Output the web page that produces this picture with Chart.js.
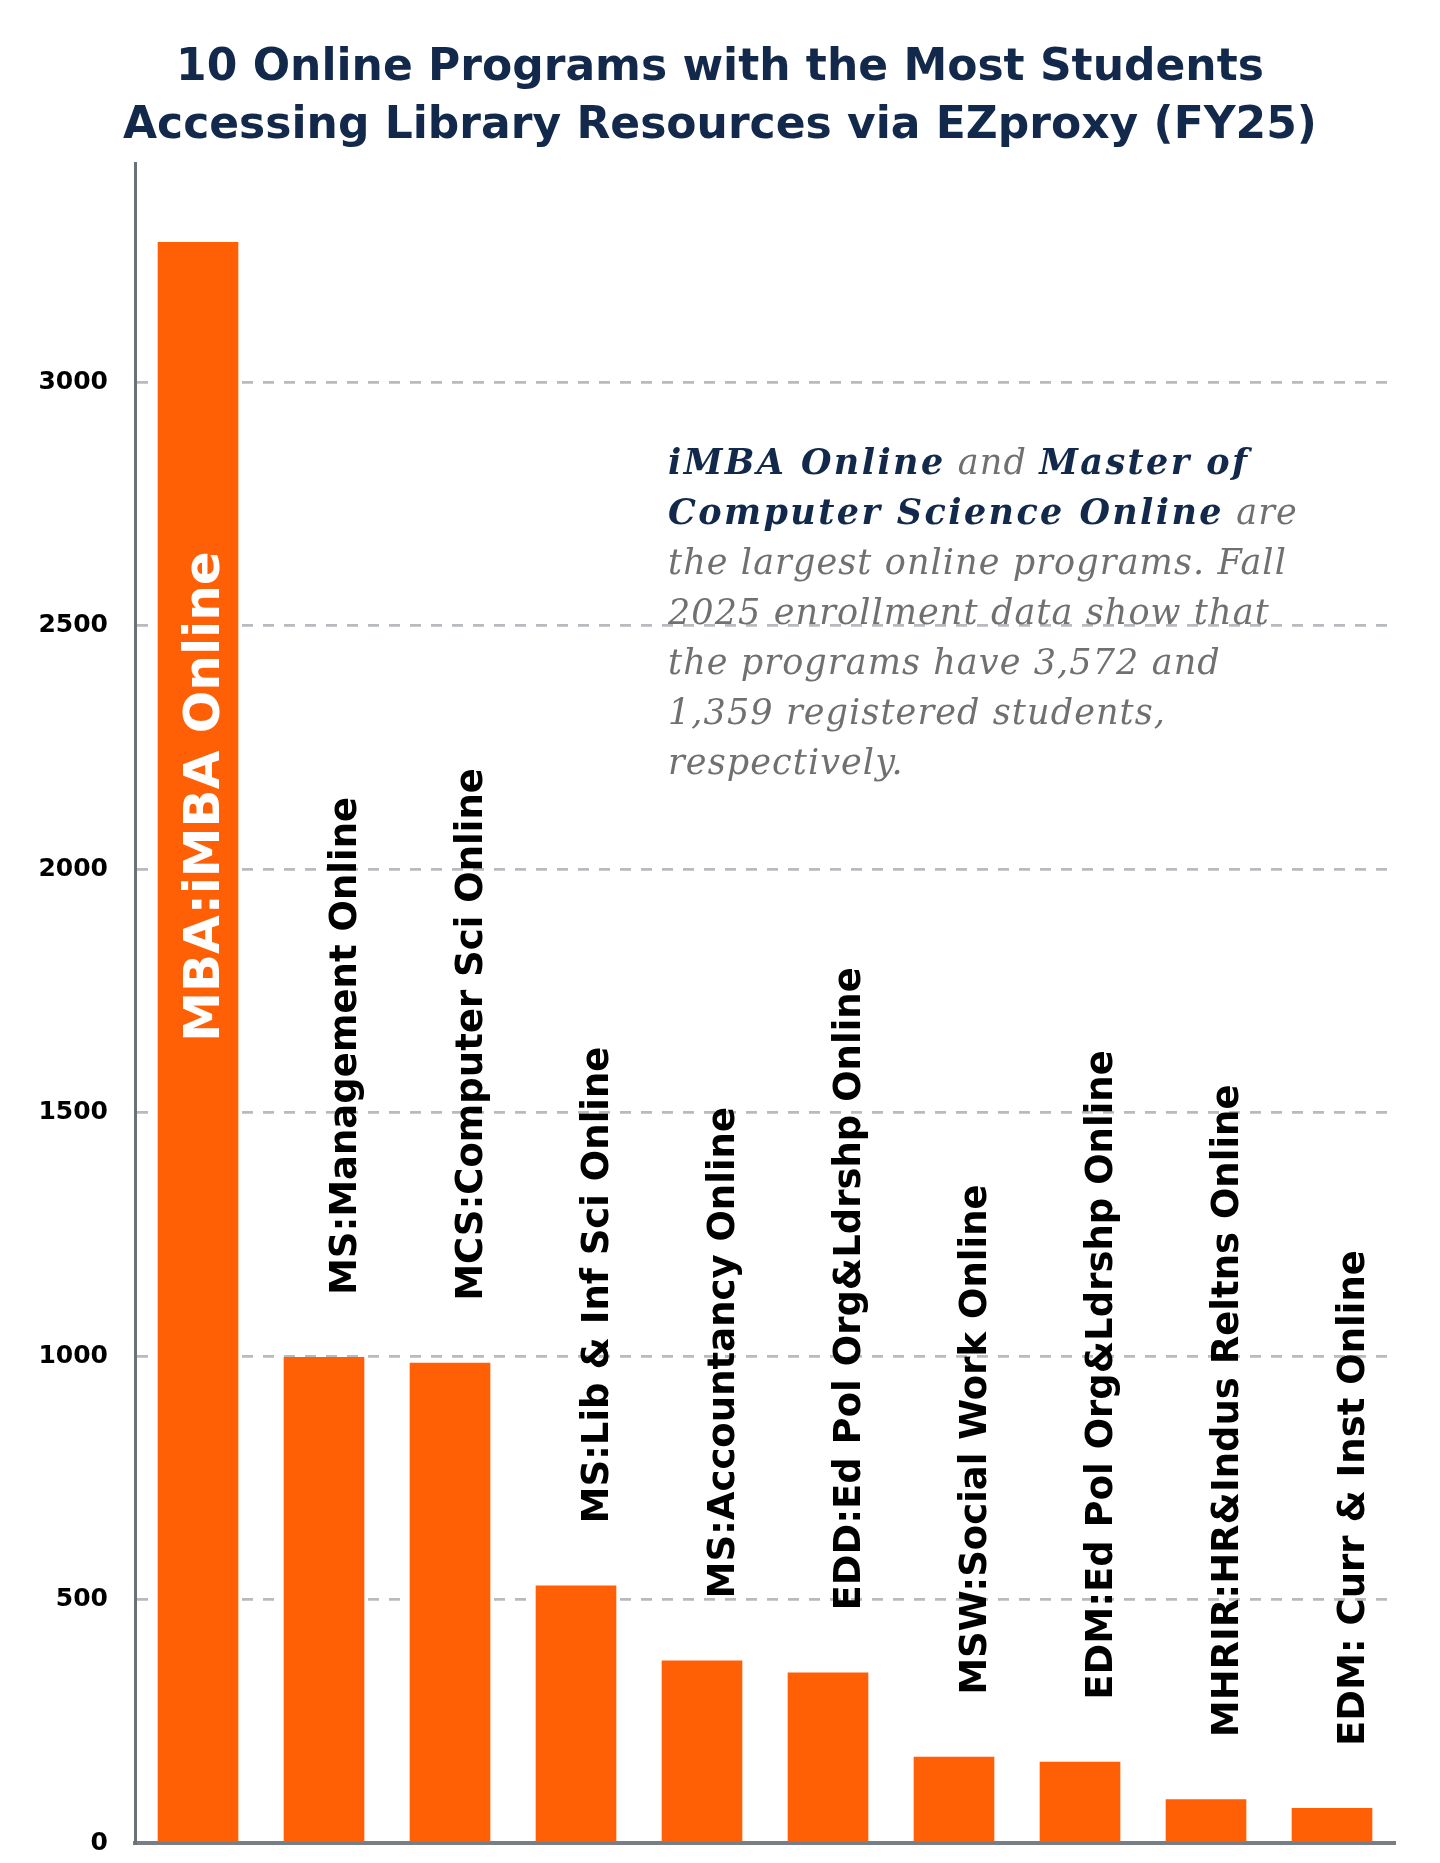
<!DOCTYPE html>
<html lang="en">
<head>
  <meta charset="UTF-8">
  <title>Online Programs EZproxy FY25</title>
  <script src="https://cdn.jsdelivr.net/npm/chart.js"></script>
  <style>
    body { margin: 0; background: #fff; }
    .wrap { position: relative; width: 1440px; height: 1863px; }
    .title {
      position: absolute; left: 0; top: 36px; width: 1440px;
      text-align: center; color: #13294B;
      font: bold 44px/58px "DejaVu Sans", sans-serif;
    }
    .note {
      position: absolute; left: 668px; top: 437px; white-space: nowrap;
      font: italic 35px/50px "DejaVu Serif", serif; color: #707070;
      letter-spacing: 1.1px;
    }
    .note b { color: #13294B; letter-spacing: 2.4px; }
  </style>
</head>
<body>
  <div class="wrap">
    <canvas id="programChart"></canvas>
    <div class="title">10 Online Programs with the Most Students<br>Accessing Library Resources via EZproxy (FY25)</div>
    <div class="note">
      <b>iMBA Online</b> and <b>Master of</b><br>
      <b>Computer Science Online</b> are<br>
      the largest online programs. Fall<br>
      2025 enrollment data show that<br>
      the programs have 3,572 and<br>
      1,359 registered students,<br>
      respectively.
    </div>
  </div>

  <script>
    // Programs and number of students accessing via EZproxy
    const programs = [
      'MBA:iMBA Online',
      'MS:Management Online',
      'MCS:Computer Sci Online',
      'MS:Lib & Inf Sci Online',
      'MS:Accountancy Online',
      'EDD:Ed Pol Org&Ldrshp Online',
      'MSW:Social Work Online',
      'EDM:Ed Pol Org&Ldrshp Online',
      'MHRIR:HR&Indus Reltns Online',
      'EDM: Curr & Inst Online'
    ];
    const students = [3288, 998, 986, 529, 375, 350, 177, 167, 90, 72];
    const yTicks = [0, 500, 1000, 1500, 2000, 2500, 3000];

    // rotated program names, first one inside its bar
    const barLabels = {
      id: 'barLabels',
      afterDatasetsDraw(chart) {
        const ctx = chart.ctx;
        chart.getDatasetMeta(0).data.forEach((bar, i) => {
          ctx.save();
          if (i === 0) {
            ctx.font = 'bold 50px "DejaVu Sans"';
            ctx.fillStyle = '#ffffff';
            ctx.translate(bar.x + 21, (bar.y + bar.base) / 2);
          } else {
            ctx.font = 'bold 37px "DejaVu Sans"';
            ctx.fillStyle = '#000000';
            ctx.translate(bar.x + 32, bar.y - 62);
          }
          ctx.rotate(-Math.PI / 2);
          ctx.textAlign = 'left';
          ctx.textBaseline = 'alphabetic';
          ctx.fillText(programs[i], 0, 0);
          ctx.restore();
        });
      }
    };

    const ctx = document.getElementById('programChart').getContext('2d');
    new Chart(ctx, {
      type: 'bar',
      data: {
        labels: programs,
        datasets: [{
          data: students,
          backgroundColor: '#FF5F05',
          barPercentage: 0.64,
          categoryPercentage: 1.0
        }]
      },
      options: {
        responsive: true,
        maintainAspectRatio: false,
        animation: false,
        layout: { padding: { top: 163, right: 45, bottom: 20, left: 0 } },
        plugins: {
          legend: { display: false },
          title: { display: false },
          tooltip: { enabled: false }
        },
        scales: {
          x: {
            afterFit: (scale) => { scale.height = 0; },
            grid: { display: false, drawTicks: false },
            ticks: { display: false },
            border: { display: true, color: '#787e86', width: 4 }
          },
          y: {
            min: 0,
            max: 3450,
            afterBuildTicks: (scale) => {
              scale.ticks = yTicks.map(v => ({ value: v }));
            },
            afterFit: (scale) => {
              scale.width = 135;
              scale.paddingTop = 0;
              scale.paddingBottom = 0;
            },
            grid: {
              color: '#b7bbc0',
              lineWidth: 2.7,
              drawTicks: false
            },
            border: { display: true, color: '#6b7079', width: 3, dash: [11, 10] },
            ticks: {
              padding: 27,
              color: '#000',
              font: { family: 'DejaVu Sans', weight: 'bold', size: 25 },
              callback: (v) => String(v)
            }
          }
        }
      },
      plugins: [barLabels]
    });
  </script>
</body>
</html>
